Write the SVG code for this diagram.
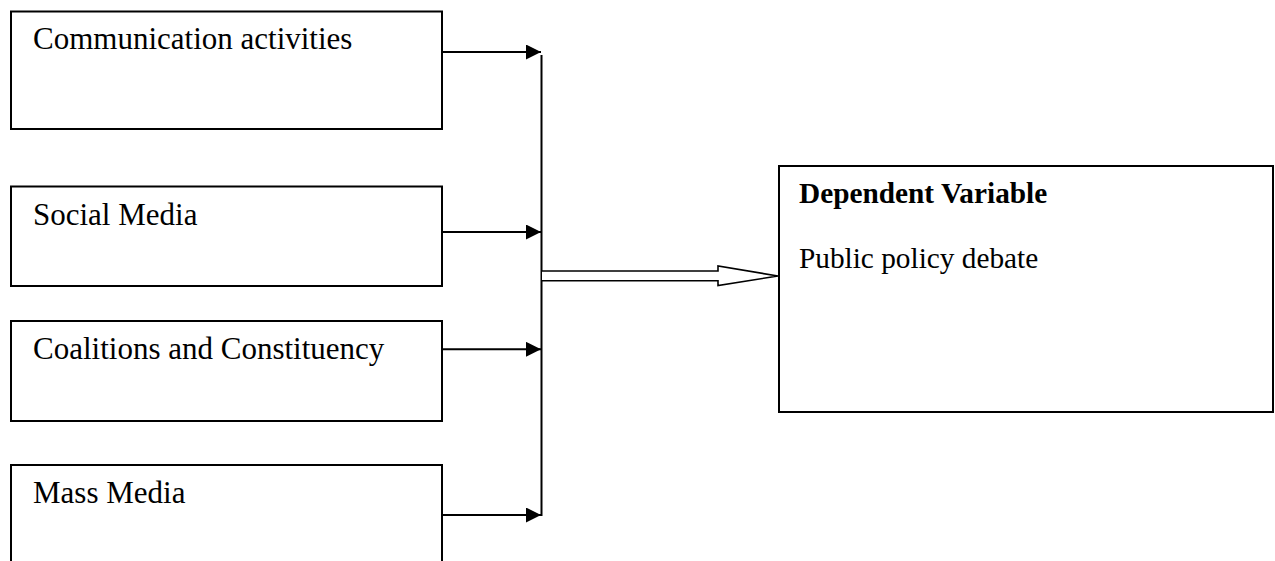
<svg xmlns="http://www.w3.org/2000/svg" width="1275" height="561" viewBox="0 0 1275 561">
<style>
.box{fill:#fff;stroke:#000;stroke-width:2}
.t{font-family:"Liberation Serif","Times New Roman",serif;font-size:31px;fill:#000}
.r{font-size:29.3px}
.b{font-weight:bold}
.ln{stroke:#000;stroke-width:2;fill:none}
</style>
<defs>
<marker id="ah" viewBox="0 0 15 15" refX="15" refY="7.5" markerWidth="15" markerHeight="15" markerUnits="userSpaceOnUse" orient="auto">
<path d="M0,0 L15,7.5 L0,15 Z" fill="#000"/>
</marker>
</defs>
<rect width="1275" height="561" fill="#fff"/>
<g id="node-communication">
<rect class="box" x="11" y="11.5" width="431" height="117.5"/>
<text class="t" x="33" y="49">Communication activities</text>
</g>
<g id="node-social">
<rect class="box" x="11" y="186.5" width="431" height="99.5"/>
<text class="t" x="33" y="224.5">Social Media</text>
</g>
<g id="node-coalitions">
<rect class="box" x="11" y="321" width="431" height="100"/>
<text class="t" x="33" y="359">Coalitions and Constituency</text>
</g>
<g id="node-mass">
<rect class="box" x="11" y="465" width="431" height="110"/>
<text class="t" x="33" y="503">Mass Media</text>
</g>
<g id="node-dependent">
<rect class="box" x="779" y="166" width="494" height="246"/>
<text class="t r b" x="799" y="203">Dependent Variable</text>
<text class="t r" x="799" y="268.3">Public policy debate</text>
</g>
<g id="connectors">
<line class="ln" x1="442" y1="52" x2="541" y2="52" marker-end="url(#ah)"/>
<line class="ln" x1="442" y1="232" x2="541" y2="232" marker-end="url(#ah)"/>
<line class="ln" x1="442" y1="349.3" x2="541" y2="349.3" marker-end="url(#ah)"/>
<line class="ln" x1="442" y1="515" x2="541" y2="515" marker-end="url(#ah)"/>
<line class="ln" x1="541.5" y1="55" x2="541.5" y2="516"/>
<path d="M542,271 L718,271 L718,266 L778,276 L718,285.5 L718,280.7 L542,280.7" fill="#fff" stroke="#000" stroke-width="1.6"/>
</g>
</svg>
